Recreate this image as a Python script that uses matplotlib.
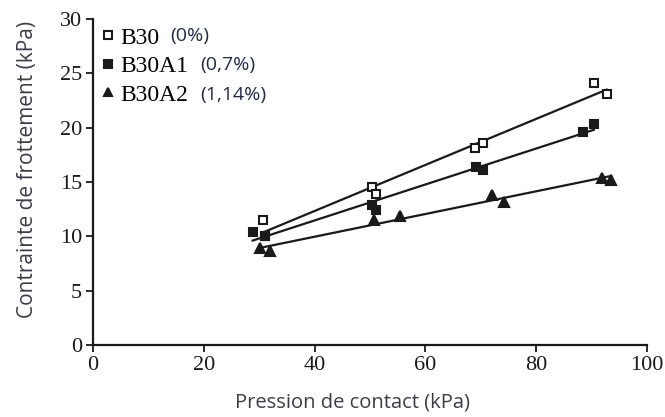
import matplotlib
matplotlib.use("Agg")
import matplotlib.pyplot as plt
import numpy as np

# points (kPa)
b30_x = [30.7, 31.0, 50.4, 51.0, 69.0, 70.3, 90.5, 92.7]
b30_y = [11.5, 10.0, 14.5, 13.9, 18.1, 18.6, 24.1, 23.1]

b30a1_x = [28.8, 31.0, 50.3, 51.0, 69.1, 70.3, 88.5, 90.4]
b30a1_y = [10.4, 10.0, 12.9, 12.4, 16.4, 16.1, 19.6, 20.3]

b30a2_x = [30.1, 32.0, 50.7, 55.4, 72.1, 74.1, 91.8, 93.5]
b30a2_y = [8.9, 8.6, 11.5, 11.9, 13.8, 13.2, 15.4, 15.2]

series_names = ["B30", "B30A1", "B30A2"]
series_pct = ["(0%)", "(0,7%)", "(1,14%)"]

x_ticks = [0, 20, 40, 60, 80, 100]
y_ticks = [0, 5, 10, 15, 20, 25, 30]

INK = "#1a1a1a"
LABEL_COL = "#3a3c48"
PCT_COL = "#1f2b4a"
SERIF = "Liberation Serif"
SANS = "Open Sans"


def plot_series(ax, xs, ys, marker, face, label, ms=6):
    xs = np.asarray(xs)
    ys = np.asarray(ys)
    a, b = np.polyfit(xs, ys, 1)
    xl = np.array([xs.min(), xs.max()])
    ax.plot(xl, a * xl + b, color=INK, lw=1.6, zorder=2)
    ax.plot(xs, ys, ls="none", marker=marker, ms=ms, mfc=face, mec=INK,
            mew=1.5, label=label, zorder=3)


fig = plt.figure(figsize=(6.65, 4.17), dpi=100)
ax = fig.add_axes([0.14, 0.173, 0.833, 0.781])

plot_series(ax, b30_x, b30_y, "s", "white", series_names[0])
plot_series(ax, b30a1_x, b30a1_y, "s", INK, series_names[1])
plot_series(ax, b30a2_x, b30a2_y, "^", INK, series_names[2], ms=7)

ax.set_xlim(0, 100)
ax.set_ylim(0, 30)
ax.set_xticks(x_ticks)
ax.set_yticks(y_ticks)
for lbl in ax.get_xticklabels() + ax.get_yticklabels():
    lbl.set_fontfamily(SERIF)
    lbl.set_fontsize(16)
    lbl.set_color(INK)
ax.tick_params(direction="out", length=5, width=1.3, color=INK, pad=3)

for side in ["top", "right"]:
    ax.spines[side].set_visible(False)
for side in ["left", "bottom"]:
    ax.spines[side].set_linewidth(1.6)
    ax.spines[side].set_color(INK)

ax.set_xlabel("Pression de contact (kPa)", family=SANS, fontsize=14.5,
              color=LABEL_COL, va="center")
ax.set_ylabel("Contrainte de frottement (kPa)", family=SANS, fontsize=15,
              color=LABEL_COL, va="center")
ax.xaxis.set_label_coords(0.469, -0.178)
ax.yaxis.set_label_coords(-0.119, 0.54)

leg = ax.legend(loc="upper left", bbox_to_anchor=(0.0144, 0.976), frameon=False,
                prop={"family": SERIF, "size": 17}, handlelength=0.6,
                handletextpad=0.2, labelspacing=0.3, markerscale=0.85,
                borderpad=0, borderaxespad=0)

pct_pos = [(0.139, 0.948), (0.193, 0.859), (0.193, 0.767)]
for txt, (px, py) in zip(series_pct, pct_pos):
    ax.text(px, py, txt, transform=ax.transAxes, family=SANS, fontsize=14,
            color=PCT_COL, va="center", ha="left")

fig.savefig("out.png", dpi=100)
